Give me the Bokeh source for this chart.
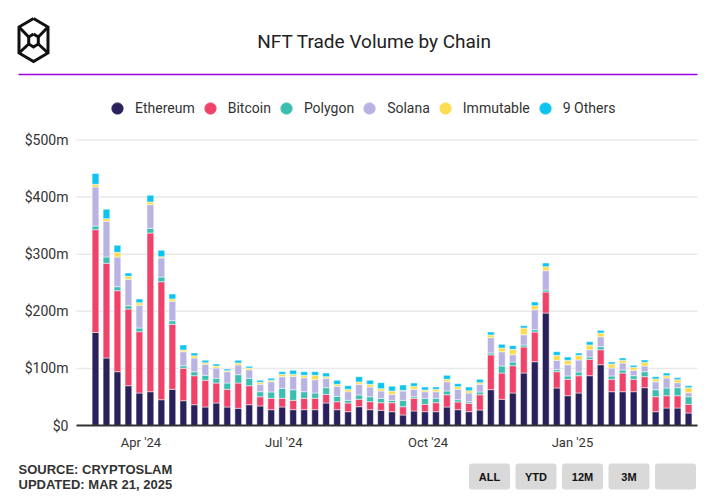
import pandas as pd
from bokeh.plotting import figure
from bokeh.models import (ColumnDataSource, Range1d, FixedTicker, DatetimeTickFormatter,
                          Legend, LegendItem)
from bokeh.embed import file_html
from bokeh.resources import INLINE
from bokeh.core.properties import value

# ---------------- data ($ millions, weekly) ----------------
week_start = "2024-03-03"
n_weeks = 55

ethereum = [163, 118.2, 94.2, 69.7, 56.9, 59.2, 45.2, 63.4, 43.4, 36.4,
            32.4, 39.4, 32.4, 30.1, 36.4, 34.2, 27.7, 32.4, 27.7, 27.7,
            27.7, 39.4, 27.7, 24.2, 32.9, 27.7, 26.6, 24.2, 18.4, 25.4,
            24.2, 24.2, 32.4, 27.7, 24.2, 27.1, 62.8, 45.9, 56.9, 91.9,
            111.7, 197, 65.7, 52.2, 56.9, 87.2, 106.5, 59.2, 59.2, 59.2,
            66.2, 24.2, 30.6, 30.6, 21.9]
bitcoin = [180, 165.9, 141.9, 134.3, 107.4, 277.9, 206.6, 113.8, 56.8, 50.8,
           46.8, 35, 31, 44.3, 33.3, 16.2, 19.9, 15.2, 16.4, 19.9,
           19.9, 15.2, 14, 15.2, 13, 14, 13.3, 15.7, 14.5, 22.2,
           12.9, 15.7, 21.5, 13.5, 14.7, 26.8, 61, 46, 47.8, 45.6,
           52, 36.8, 28.5, 28.7, 30.3, 28.7, 26.2, 21.7, 32.7, 21.7,
           19.3, 26.2, 21.6, 21.6, 15.2]
polygon = [6.3, 11.1, 7, 5.8, 6.5, 8.3, 8.3, 6.3, 4.5, 7,
           8.7, 8.3, 11, 14.6, 13, 8.8, 11.1, 17.5, 18.6, 11.6,
           9.3, 11.6, 9.4, 4.7, 7.5, 8.7, 7.7, 4.2, 11.2, 2.8,
           10.5, 7.7, 6.5, 4, 2.8, 4.8, 3.3, 12.3, 6.5, 3.5,
           4.1, 3.5, 3.5, 5.8, 6.5, 4.1, 5.3, 5.8, 5.3, 6.3,
           8.7, 12.3, 13.5, 14, 13.3]
solana = [68.5, 62.5, 52, 46.2, 39.7, 41.3, 33.2, 34, 24.5, 24,
          19.3, 18, 19.8, 17, 15, 13, 18, 20.4, 23.5, 24.5,
          23.3, 16.5, 17.6, 15.1, 18.8, 17, 12.8, 10.5, 16.3, 13,
          11.6, 11.6, 16.3, 18.2, 15.2, 13.5, 26.8, 25, 12.8, 18,
          35, 33.8, 16.5, 19.8, 21, 12.7, 17.5, 14, 12.3, 9.5,
          10, 14, 17.5, 8.8, 7]
immutable = [4.7, 4.6, 8.2, 5.3, 4.6, 4.7, 2.3, 4, 3, 4,
             2.8, 3.5, 1.8, 3.5, 3, 3.5, 2.5, 4.2, 3.5, 4.2,
             7.7, 2.8, 3.5, 4.2, 4, 4.8, 4, 5.8, 1.2, 5.3,
             3, 4.2, 4.2, 4.5, 4, 2.8, 4.7, 6.5, 9.5, 11.8,
             7, 7, 8.7, 7.7, 8.2, 8.3, 6.5, 7, 4.7, 5.2,
             6.5, 4.7, 4, 5.2, 8.8]
others = [18.8, 16.4, 12.3, 5.8, 6.4, 11.8, 11.2, 8.8, 8.8, 4.8,
          4.2, 3.5, 3, 4.7, 3, 3.5, 3.5, 4.5, 7, 6.3,
          6.3, 6.4, 7, 6.3, 9.3, 7, 10.6, 8.3, 9.3, 5.7,
          5.2, 4, 7, 5.3, 6.5, 5.9, 5.2, 6.5, 6.3, 4,
          6.5, 6.5, 6.3, 5.8, 4.1, 5.8, 4.7, 3.5, 4, 3.5,
          4, 4.1, 4.7, 3.5, 3.5]

series_keys = ["eth", "btc", "poly", "sol", "imm", "oth"]
series_names = ["Ethereum", "Bitcoin", "Polygon", "Solana", "Immutable", "9 Others"]
series_colors = ["#29205c", "#f0436a", "#3dbdb0", "#b9b3e3", "#fddd4f", "#0bc4f0"]

y_ticks = [0, 100, 200, 300, 400, 500]
y_tick_labels = ["$0", "$100m", "$200m", "$300m", "$400m", "$500m"]
x_tick_dates = ["2024-04-01", "2024-07-01", "2024-10-01", "2025-01-01"]

title_text = "NFT Trade Volume by Chain"
footer_lines = ["SOURCE: CRYPTOSLAM", "UPDATED: MAR 21, 2025"]
button_labels = ["ALL", "YTD", "12M", "3M", ""]

# ---------------- layout constants (canvas pixels) ----------------
W, H = 717, 497
PL, PR, PB = 76, 697, 425        # plot area left / right / baseline
PX_PER_M = 0.571                 # pixels per $1m
DAY = 86400000.0

weeks = pd.date_range(week_start, periods=n_weeks, freq="7D")
src = ColumnDataSource(dict(week=weeks, eth=ethereum, btc=bitcoin, poly=polygon,
                            sol=solana, imm=immutable, oth=others))

t_left = (weeks[0] - pd.Timedelta(days=12.1)).value / 1e6     # date at x = PL
t_right = (weeks[-1] + pd.Timedelta(days=5.7)).value / 1e6    # date at x = PR
ms_per_px = (t_right - t_left) / (PR - PL)


def px2x(px):
    return t_left + (px - PL) * ms_per_px


def px2y(py):
    return (PB - py) / PX_PER_M


p = figure(width=W, height=H, x_axis_type="datetime",
           x_range=Range1d(px2x(0), px2x(W)), y_range=Range1d(px2y(H), px2y(0)),
           output_backend="svg", toolbar_location=None, min_border=0)
p.outline_line_color = None
p.grid.visible = False

# gridlines at the y ticks, across the plot area only
p.segment(x0=[px2x(PL)] * len(y_ticks), x1=[px2x(PR)] * len(y_ticks), y0=y_ticks, y1=y_ticks,
          line_color="#e9e9e9", line_width=1.5, level="underlay")

p.vbar_stack(series_keys, x="week", width=4.3 * DAY, source=src,
             fill_color=series_colors, line_color="white", line_width=0.5)

# legend (circle markers, renderers hold one off-screen point)
items = []
for name, col in zip(series_names, series_colors):
    r = p.scatter(x=[weeks[0]], y=[-5000], marker="circle", size=10,
                  fill_color=col, line_color=col)
    items.append(LegendItem(label=name, renderers=[r]))
legend = Legend(items=items, orientation="horizontal", location=(103, H - 122),
                glyph_width=28, glyph_height=28, label_standoff=4, spacing=1,
                padding=0, margin=0, label_text_font="Roboto", label_text_font_size="14px",
                label_text_color="#333333", background_fill_alpha=0, border_line_alpha=0,
                label_height=28)
p.add_layout(legend)

# axes (fixed at the plot-area edges)
tick_ms = [pd.Timestamp(d).value / 1e6 for d in x_tick_dates]
xa = p.xaxis[0]
xa.fixed_location = 0
xa.bounds = (px2x(PL), px2x(PR))
xa.ticker = FixedTicker(ticks=tick_ms)
fmt = "%b '%y"
xa.formatter = DatetimeTickFormatter(microseconds=fmt, milliseconds=fmt, seconds=fmt,
                                     minsec=fmt, minutes=fmt, hourmin=fmt, hours=fmt,
                                     days=fmt, months=fmt, years=fmt)
xa.axis_line_color = "#333333"
xa.axis_line_width = 2
xa.major_tick_line_color = None
xa.major_tick_out = 0
xa.major_tick_in = 0
xa.minor_tick_line_color = None
xa.minor_tick_out = 0
xa.major_label_standoff = 9
xa.major_label_text_font = "Roboto"
xa.major_label_text_font_size = "13px"
xa.major_label_text_color = "#333333"

ya = p.yaxis[0]
ya.fixed_location = px2x(PL)
ya.bounds = (0, 500)
ya.ticker = FixedTicker(ticks=y_ticks)
ya.major_label_overrides = {t: l for t, l in zip(y_ticks, y_tick_labels)}
ya.axis_line_color = None
ya.major_tick_line_color = None
ya.major_tick_out = 0
ya.major_tick_in = 0
ya.minor_tick_line_color = None
ya.minor_tick_out = 0
ya.major_label_standoff = 8
ya.major_label_text_font = "Roboto"
ya.major_label_text_font_size = "14px"
ya.major_label_text_color = "#333333"

# ---------------- header (logo, title, rule) ----------------
logo_outer = [(33, 18), (47.5, 26.5), (47.5, 52.5), (33, 61), (18.5, 52.5), (18.5, 26.5), (33, 18)]
logo_inner = [(33, 33.5), (37.8, 36.5), (37.8, 43.5), (33, 46.5), (28.2, 43.5), (28.2, 36.5),
              (33, 33.5)]
logo_links = [[(18.5, 26.5), (28.2, 36.5)], [(47.5, 26.5), (37.8, 36.5)],
              [(18.5, 52.5), (28.2, 43.5)], [(47.5, 52.5), (37.8, 43.5)]]
logo_paths = [logo_outer, logo_inner] + logo_links
p.multi_line(xs=[[px2x(a) for a, b in path] for path in logo_paths],
             ys=[[px2y(b) for a, b in path] for path in logo_paths],
             line_color="#111111", line_width=3, line_join="miter")

p.text(x=[px2x(374)], y=[px2y(41)], text=[title_text], text_font=value("Roboto"),
       text_font_size="19px", text_color="#222222", text_align="center",
       text_baseline="middle")
p.segment(x0=[px2x(18)], y0=[px2y(74)], x1=[px2x(PR)], y1=[px2y(74)],
          line_color="#9d00e3", line_width=1.5)

# ---------------- footer ----------------
p.text(x=[px2x(18)] * 2, y=[px2y(469), px2y(484)], text=footer_lines,
       text_font=value("Liberation Sans"), text_font_style="bold", text_font_size="13px",
       text_color="#333333", text_align="left", text_baseline="middle")

btn_cx = [489 + 46.5 * i for i in range(len(button_labels))]
p.quad(left=[px2x(c - 20.5) for c in btn_cx], right=[px2x(c + 20.5) for c in btn_cx],
       top=[px2y(463)] * len(btn_cx), bottom=[px2y(489)] * len(btn_cx),
       fill_color="#d9d9d9", line_color=None, border_radius=3)
p.text(x=[px2x(c) for c in btn_cx], y=[px2y(476.5)] * len(btn_cx), text=button_labels,
       text_font=value("Liberation Sans"), text_font_style="bold", text_font_size="11px",
       text_color="#111111", text_align="center", text_baseline="middle")

open("out.html", "w").write(file_html(p, INLINE))
